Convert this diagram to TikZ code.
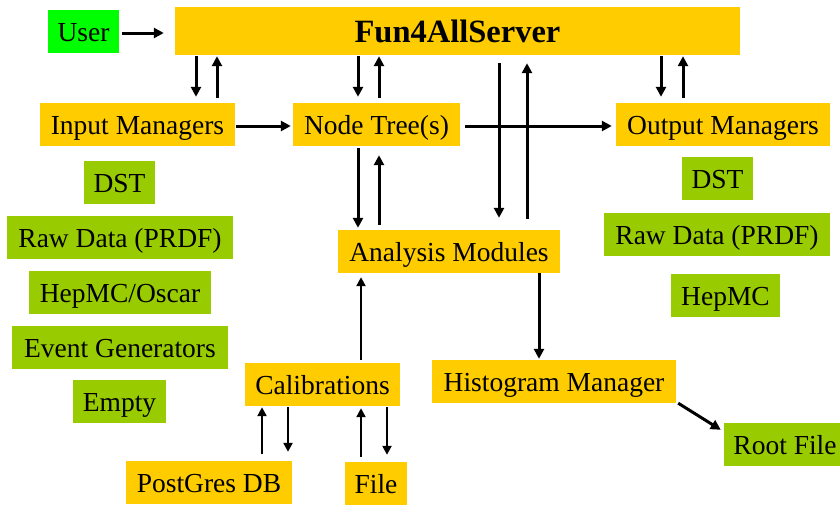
\documentclass[tikz,border=0pt]{standalone}
\usepackage{fontspec}
\setmainfont{Liberation Serif}
\usetikzlibrary{calc, arrows.meta}
\definecolor{boxorange}{HTML}{FFCC00}
\definecolor{boxgreen}{HTML}{99CC00}
\definecolor{usergreen}{HTML}{00FF00}

\begin{document}
\begin{tikzpicture}[x=1pt, y=-1pt,
  box/.style={inner sep=0pt, minimum height=43pt, text height=21.5pt, text depth=2.5pt, font=\fontsize{27.5}{33}\selectfont},
  orangebox/.style={box, fill=boxorange},
  greenbox/.style={box, fill=boxgreen},
  arr/.style={line width=3pt, -{Triangle[length=10pt,width=10pt]}},
  thinarr/.style={line width=2.3pt, -{Triangle[length=9pt,width=9pt]}}]
%Page
\useasboundingbox (0,0) rectangle (840,506);
%Framework boxes
\node [box, fill=usergreen, minimum width=71pt] (user) at (83.5,31.5) {User};
\node [orangebox, minimum width=565pt, minimum height=48pt, text height=26pt, text depth=2.6pt, font=\fontsize{32.5}{38}\selectfont\bfseries] (serv) at (457.5,31) {Fun4AllServer};
\node [orangebox, minimum width=195pt] (inp) at (137.5,124.5) {Input Managers};
\node [orangebox, minimum width=167pt] (tree) at (376.5,124.5) {Node Tree(s)};
\node [orangebox, minimum width=214pt] (outp) at (723,124.5) {Output Managers};
\node [orangebox, minimum width=222pt] (ana) at (449,251.5) {Analysis Modules};
\node [orangebox, minimum width=155pt] (calib) at (322.5,384.5) {Calibrations};
\node [orangebox, minimum width=244pt] (hist) at (554,381.5) {Histogram Manager};
\node [orangebox, minimum width=166pt] (pgdb) at (209,482.5) {PostGres DB};
\node [orangebox, minimum width=62pt] (file) at (376,483.5) {File};
%Input types
\node [greenbox, minimum width=71pt] (dstin) at (119.5,182.5) {DST};
\node [greenbox, minimum width=226pt] (rawin) at (120,237.5) {Raw Data (PRDF)};
\node [greenbox, minimum width=182pt] (hepin) at (120,292.5) {HepMC/Oscar};
\node [greenbox, minimum width=216pt] (evgen) at (120,347.5) {Event Generators};
\node [greenbox, minimum width=93pt] (empty) at (119.5,401.5) {Empty};
%Output types
\node [greenbox, minimum width=71pt] (dstout) at (717.5,178.5) {DST};
\node [greenbox, minimum width=226pt] (rawout) at (717,234.5) {Raw Data (PRDF)};
\node [greenbox, minimum width=109pt] (hepout) at (725.5,295.5) {HepMC};
\node [greenbox, minimum width=122pt] (root) at (785,444.5) {Root File};
%Arrow columns
\coordinate (c1) at (196,0);
\coordinate (c2) at (217,0);
\coordinate (c3) at (358,0);
\coordinate (c4) at (379,0);
\coordinate (c5) at (661,0);
\coordinate (c6) at (683,0);
\coordinate (c7) at (499,0);
\coordinate (c8) at (527,0);
\coordinate (c9) at (361,0);
\coordinate (c10) at (539,0);
\coordinate (c11) at (262,0);
\coordinate (c12) at (288,0);
\coordinate (c13) at (387,0);
%User to server
\draw [arr, shorten <=3pt, shorten >=11pt] ([yshift=-1.5pt]user.east) -- ([yshift=-1.5pt]user.east -| serv.west);
%Server and managers
\draw [arr, shorten <=1pt, shorten >=6pt] (serv.south -| c1) -- (inp.north -| c1);
\draw [arr, shorten <=5pt, shorten >=1pt] (inp.north -| c2) -- (serv.south -| c2);
\draw [arr, shorten <=1pt, shorten >=6pt] (serv.south -| c3) -- (tree.north -| c3);
\draw [arr, shorten <=5pt, shorten >=1pt] (tree.north -| c4) -- (serv.south -| c4);
\draw [arr, shorten <=1pt, shorten >=6pt] (serv.south -| c5) -- (outp.north -| c5);
\draw [arr, shorten <=5pt, shorten >=1pt] (outp.north -| c6) -- (serv.south -| c6);
%Data flow through the node tree
\draw [arr, shorten <=1pt, shorten >=2pt] ([yshift=-1.5pt]inp.east) -- ([yshift=-1.5pt]tree.west);
\draw [arr, shorten <=5pt, shorten >=4pt] ([yshift=-1.5pt]tree.east) -- ([yshift=-1.5pt]outp.west);
%Server and analysis modules
\draw [arr, shorten <=8pt, shorten >=12pt] (serv.south -| c7) -- (ana.north -| c7);
\draw [arr, shorten <=11pt, shorten >=8pt] (ana.north -| c8) -- (serv.south -| c8);
%Node tree and analysis modules
\draw [arr, shorten <=2pt, shorten >=2pt] (tree.south -| c3) -- (ana.north -| c3);
\draw [arr, shorten <=5pt, shorten >=9pt] (ana.north -| c4) -- (tree.south -| c4);
%Calibrations
\draw [thinarr, shorten <=3pt, shorten >=4pt] (calib.north -| c9) -- (ana.south -| c9);
\draw [thinarr, shorten <=7pt, shorten >=1pt] (pgdb.north -| c11) -- (calib.south -| c11);
\draw [thinarr, shorten <=1pt, shorten >=9pt] (calib.south -| c12) -- (pgdb.north -| c12);
\draw [thinarr, shorten <=5pt, shorten >=2pt] (file.north -| c9) -- (calib.south -| c9);
\draw [thinarr, shorten <=1pt, shorten >=7pt] (calib.south -| c13) -- (file.north -| c13);
%Histograms
\draw [arr, shorten >=1pt] (ana.south -| c10) -- (hist.north -| c10);
\draw [arr] ([xshift=2pt]hist.south east) -- ([shift={(-3pt,-7pt)}]root.north west);
\end{tikzpicture}
\end{document}
